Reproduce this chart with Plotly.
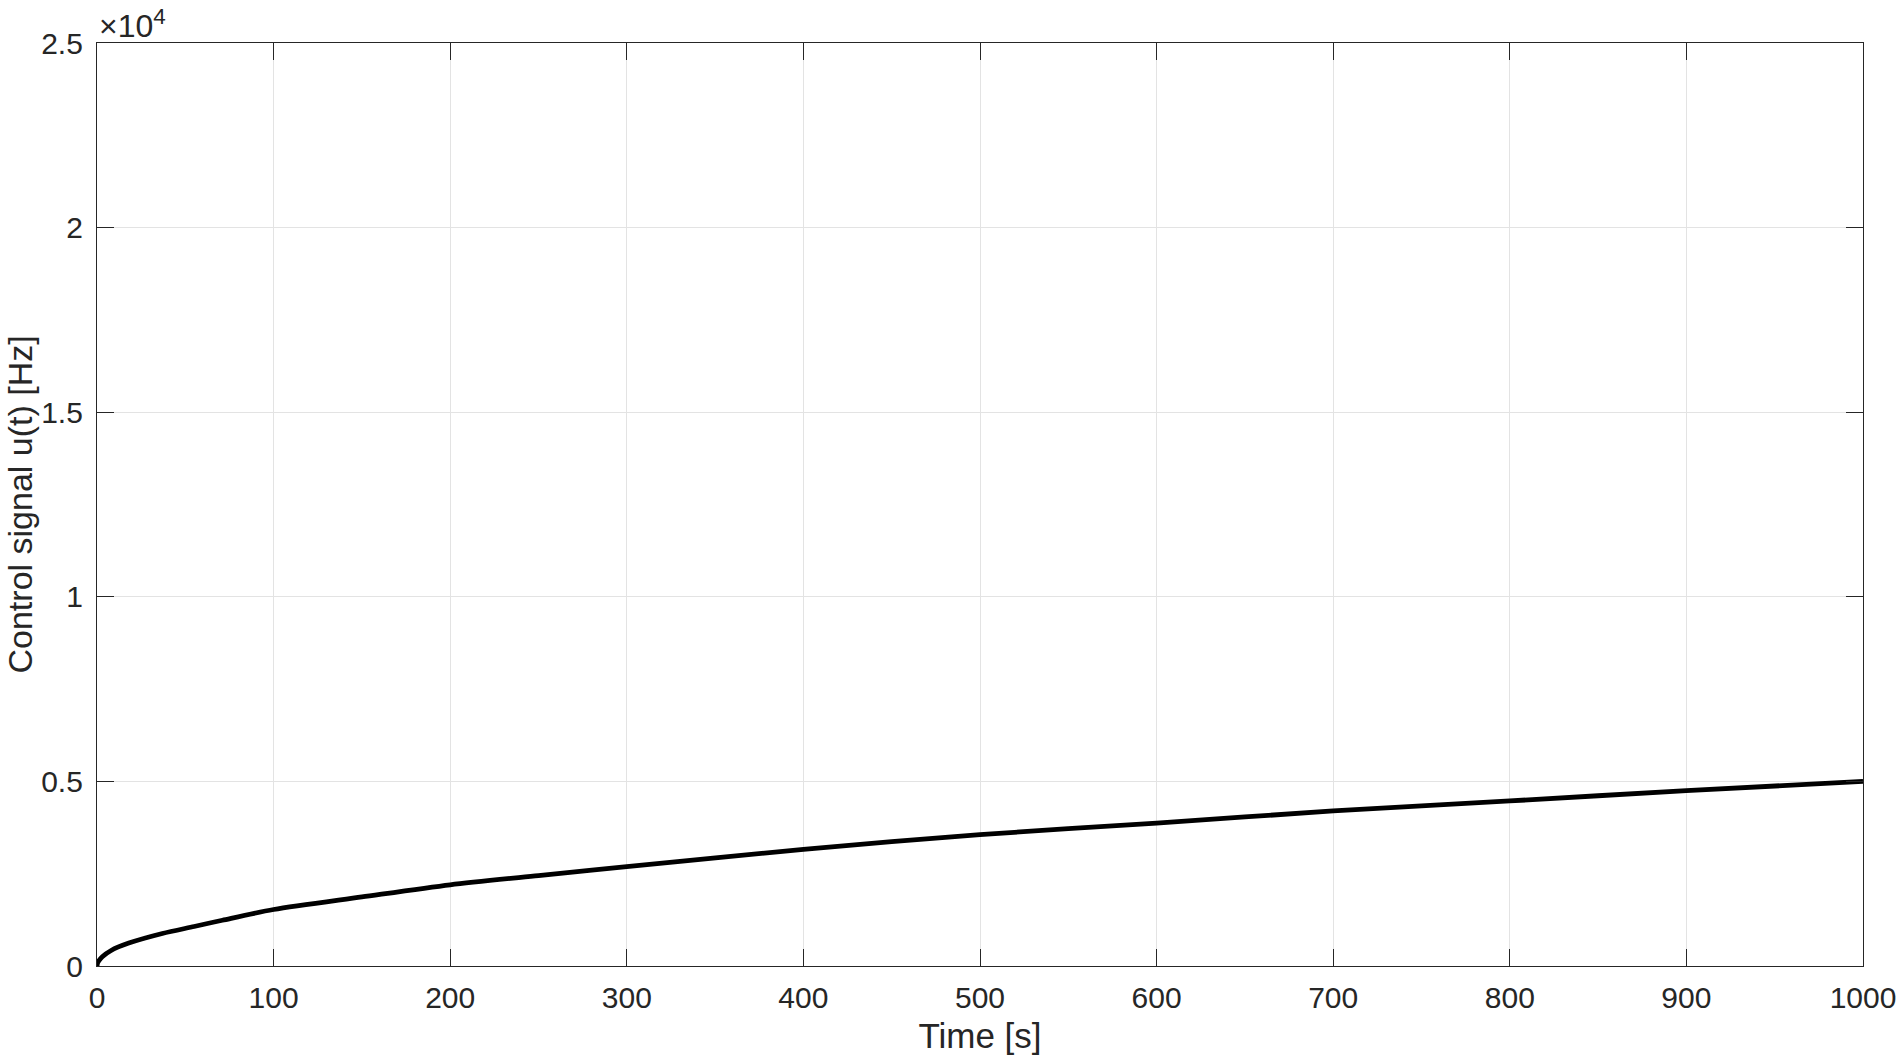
import plotly.graph_objects as go

# Data
time_s = [0, 0.3, 1, 3, 8, 18, 37, 55, 71, 100, 150, 200, 250, 300, 400, 500, 600, 700, 800, 900, 1000]
control_u = [0, 80, 140, 250, 420, 620, 880, 1070, 1240, 1530, 1870, 2200, 2450, 2690, 3160, 3560, 3870, 4200, 4470, 4750, 5000]

x_ticks = [0, 100, 200, 300, 400, 500, 600, 700, 800, 900, 1000]
y_ticks = [0, 5000, 10000, 15000, 20000, 25000]
y_tick_labels = ["0", "0.5", "1", "1.5", "2", "2.5"]

FONT = "Liberation Sans, Arial, Helvetica, sans-serif"
AXIS_COLOR = "#262626"
GRID_COLOR = "#e3e3e3"

W, H = 1900, 1062
ML, MR, MT, MB = 97, 37, 43, 96

fig = go.Figure()
fig.add_trace(go.Scatter(
    x=time_s, y=control_u, mode="lines",
    line=dict(color="black", width=4.8, shape="spline", smoothing=0.8),
    showlegend=False, hoverinfo="skip",
))

axis_common = dict(
    showline=True, linecolor=AXIS_COLOR, linewidth=1.2, mirror="ticks",
    ticks="inside", ticklen=17, tickwidth=1.2, tickcolor=AXIS_COLOR,
    showgrid=True, gridcolor=GRID_COLOR, gridwidth=1.2,
    zeroline=False, automargin=False,
    tickfont=dict(family=FONT, size=30, color="#262626"),
    title_font=dict(family=FONT, size=35, color="#262626"),
)

fig.update_layout(
    width=W, height=H,
    paper_bgcolor="white", plot_bgcolor="white",
    margin=dict(l=ML, r=MR, t=MT, b=MB, autoexpand=False),
    xaxis=dict(range=[0, 1000], tickvals=x_ticks, title=dict(text="Time [s]", standoff=10),
               ticklabelstandoff=5, **axis_common),
    yaxis=dict(range=[0, 25000], tickvals=y_ticks, ticktext=y_tick_labels,
               ticklabelstandoff=7, **axis_common),
    annotations=[
        dict(
            text="×10<sup>4</sup>", xref="paper", yref="paper", x=0, y=1,
            xanchor="left", yanchor="bottom", showarrow=False, xshift=0, yshift=-3,
            font=dict(family=FONT, size=32, color="#262626"),
        ),
        dict(
            text="Control signal u(t) [Hz]", xref="paper", yref="paper",
            x=(19 - ML) / (W - ML - MR), y=0.5, textangle=-90,
            xanchor="center", yanchor="middle", showarrow=False,
            font=dict(family=FONT, size=34, color="#262626"),
        ),
    ],
)

fig.write_html(
    "out.html",
    config={"displayModeBar": False},
    post_script="document.body.style.margin='0';document.body.style.overflow='hidden';",
)
